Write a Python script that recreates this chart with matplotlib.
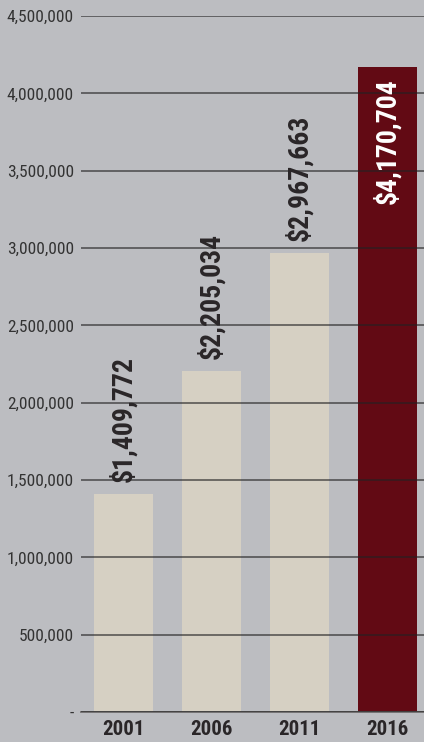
import matplotlib
matplotlib.use("Agg")
import matplotlib.pyplot as plt
import matplotlib.ticker as ticker

years = ["2001", "2006", "2011", "2016"]
values = [1409772, 2205034, 2967663, 4170704]
bar_colors = ["#d6d0c3", "#d6d0c3", "#d6d0c3", "#620a14"]
yticks = [0, 500000, 1000000, 1500000, 2000000, 2500000, 3000000, 3500000, 4000000, 4500000]

plt.rcParams['font.family'] = ['Roboto Condensed', 'DejaVu Sans']
bg = "#bcbdc1"

fig = plt.figure(figsize=(4.24, 7.42), dpi=100, facecolor=bg)
ax = fig.add_axes([81/424, 30/742, 343/424, 696/742], facecolor=bg)

x = list(range(len(years)))
ax.bar(x, values, width=0.67, color=bar_colors, zorder=1)

ax.set_ylim(0, 4500000)
ax.set_xlim(-0.483, 3.415)
ax.set_yticks(yticks)
ax.yaxis.set_major_formatter(ticker.FuncFormatter(lambda v, p: "-" if v == 0 else f"{int(v):,}"))
ax.grid(axis='y', color="#222222", linewidth=1.1, alpha=0.75, zorder=2)
ax.set_axisbelow(False)
ax.set_xticks(x)
ax.set_xticklabels(years, fontsize=15, fontweight='bold', color="#2a2628")
ax.tick_params(axis='y', length=0, pad=5, labelsize=12.5, labelcolor="#333333")
ax.tick_params(axis='x', length=0, pad=6)
for s in ['top', 'right', 'left']:
    ax.spines[s].set_visible(False)
ax.spines['bottom'].set_color("#6e6c6c")
ax.spines['bottom'].set_linewidth(1.3)

for i, v in enumerate(values):
    label = f"${v:,}"
    if i == len(values) - 1:
        ax.annotate(label, (i, v), xytext=(0, -11), textcoords='offset pixels',
                    rotation=90, ha='center', va='top', fontsize=20,
                    fontweight='bold', color='white', zorder=3)
    else:
        ax.annotate(label, (i, v), xytext=(0, 12), textcoords='offset pixels',
                    rotation=90, ha='center', va='bottom', fontsize=20,
                    fontweight='bold', color="#2a2628", zorder=3)

fig.savefig("out.png", dpi=100, facecolor=bg)
